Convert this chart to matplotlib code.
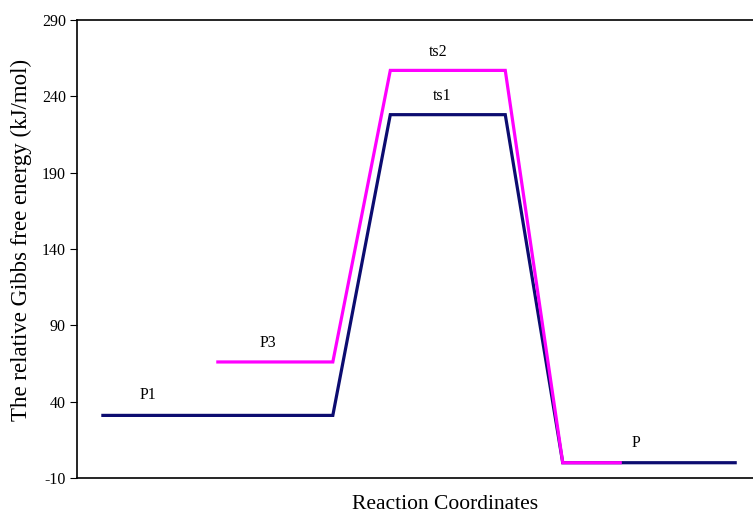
import matplotlib.pyplot as plt

# reaction coordinate positions and relative Gibbs free energies (kJ/mol)
x_path1 = [0, 4, 5, 7, 8, 11]
g_path1 = [31, 31, 228, 228, 0, 0]
x_path2 = [2, 4, 5, 7, 8, 9]
g_path2 = [66, 66, 257, 257, 0, 0]

labels = ['P1', 'P3', 'ts1', 'ts2', 'P']
label_x = [0.78, 2.87, 5.9, 5.83, 9.27]
label_y = [39, 73, 235, 264, 8]

yticks = [-10, 40, 90, 140, 190, 240, 290]

plt.rcParams['font.family'] = ['Liberation Serif', 'DejaVu Serif']
plt.rcParams['axes.unicode_minus'] = False

fig = plt.figure(figsize=(7.53, 5.2), dpi=100)
ax = fig.add_axes([0.1023, 0.0808, 0.8977, 0.8807])

ax.plot(x_path1, g_path1, color='#0c0c70', linewidth=2.3, solid_joinstyle='miter')
ax.plot(x_path2, g_path2, color='#ff00ff', linewidth=2.3, solid_joinstyle='miter')

for t, lx, ly in zip(labels, label_x, label_y):
    ax.text(lx, ly, t, ha='center', va='bottom', fontsize=11.5)

ax.set_xlim(-0.45, 11.31)
ax.set_ylim(-10, 290)
ax.set_yticks(yticks)
ax.set_xticks([])
ax.tick_params(axis='y', direction='out', length=5, labelsize=11.5, pad=3)
ax.spines['right'].set_visible(False)
for s in ['left', 'top', 'bottom']:
    ax.spines[s].set_linewidth(1.2)

ax.set_ylabel('The relative Gibbs free energy (kJ/mol)', fontsize=16.5)
ax.set_xlabel('Reaction Coordinates', fontsize=15.5)
ax.yaxis.set_label_coords(-0.067, 0.52)
ax.xaxis.set_label_coords(0.544, -0.037)

fig.savefig('out.png', dpi=100)
